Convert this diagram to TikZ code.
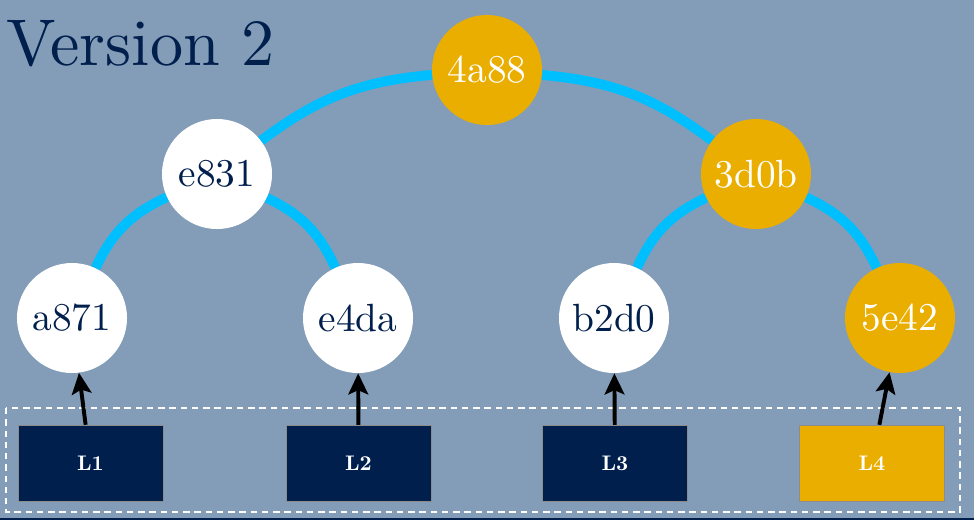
\documentclass[tikz,border=0pt]{standalone}
\usepackage{fontspec}
\setmainfont{lmroman10-regular.otf}[BoldFont=lmroman10-bold.otf]
\usepackage{tikz}
\usetikzlibrary{arrows.meta}
\definecolor{slidebg}{RGB}{131,157,184}
\definecolor{navy}{RGB}{0,31,77}
\definecolor{gold}{RGB}{233,174,0}
\definecolor{sky}{RGB}{0,191,255}

\begin{document}
\begin{tikzpicture}[x=0.025cm, y=-0.025cm,
	hashnode/.style={circle, fill=white, text=navy, minimum size=2.75cm, inner sep=0pt, font=\fontsize{28}{30}\selectfont},
	hotnode/.style={hashnode, fill=gold, text=white},
	leafbox/.style={rectangle, fill=navy, draw=black!45, line width=0.3pt, text=white, minimum width=3.625cm, minimum height=1.9cm, inner sep=0pt, font=\fontsize{15}{17}\selectfont\bfseries},
	treeedge/.style={sky, line width=7pt},
	uparrow/.style={-{Stealth[length=15pt,width=14pt,inset=3pt]}, line width=2.8pt}]
			%%%%% START %%%%%
			
			\fill[slidebg] (0, 0) rectangle (974, 520);
			\fill[navy] (0, 518) rectangle (974, 520);
			\useasboundingbox (0, 0) rectangle (974, 520);
			
			\node[anchor=base west, inner sep=0pt, text=navy, font=\fontsize{47}{50}\selectfont] (title) at (6, 65) {Version 2};
			
			\draw[white, line width=2pt, dash pattern=on 4.5pt off 3.5pt] (6, 408) rectangle (960, 512);
			
			\node[hotnode] (root) at (487, 70) {4a88};
			\node[hashnode] (left) at (217, 174) {e831};
			\node[hotnode] (right) at (756, 174) {3d0b};
			
			\node[hashnode] (ha) at (72, 318) {a871};
			\node[hashnode] (hb) at (358, 318) {e4da};
			\node[hashnode] (hc) at (614, 318) {b2d0};
			\node[hotnode] (hd) at (900, 318) {5e42};
			
			\node[leafbox] (la) at (90.5, 463) {L1};
			\node[leafbox] (lb) at (358.5, 463) {L2};
			\node[leafbox] (lc) at (615, 463) {L3};
			\node[leafbox, fill=gold] (ld) at (872, 463) {L4};
			
			\draw[treeedge] (root) to[bend right=16] (left);
			\draw[treeedge] (root) to[bend left=16] (right);
			\draw[treeedge] (left) to[bend right=20] (ha);
			\draw[treeedge] (left) to[bend left=20] (hb);
			\draw[treeedge] (right) to[bend right=20] (hc);
			\draw[treeedge] (right) to[bend left=20] (hd);
			
			\draw[uparrow] (la) -- (ha);
			\draw[uparrow] (lb) -- (hb);
			\draw[uparrow] (lc) -- (hc);
			\draw[uparrow] (ld) -- (hd);
			
			%%%%% END %%%%%
\end{tikzpicture}
\end{document}
